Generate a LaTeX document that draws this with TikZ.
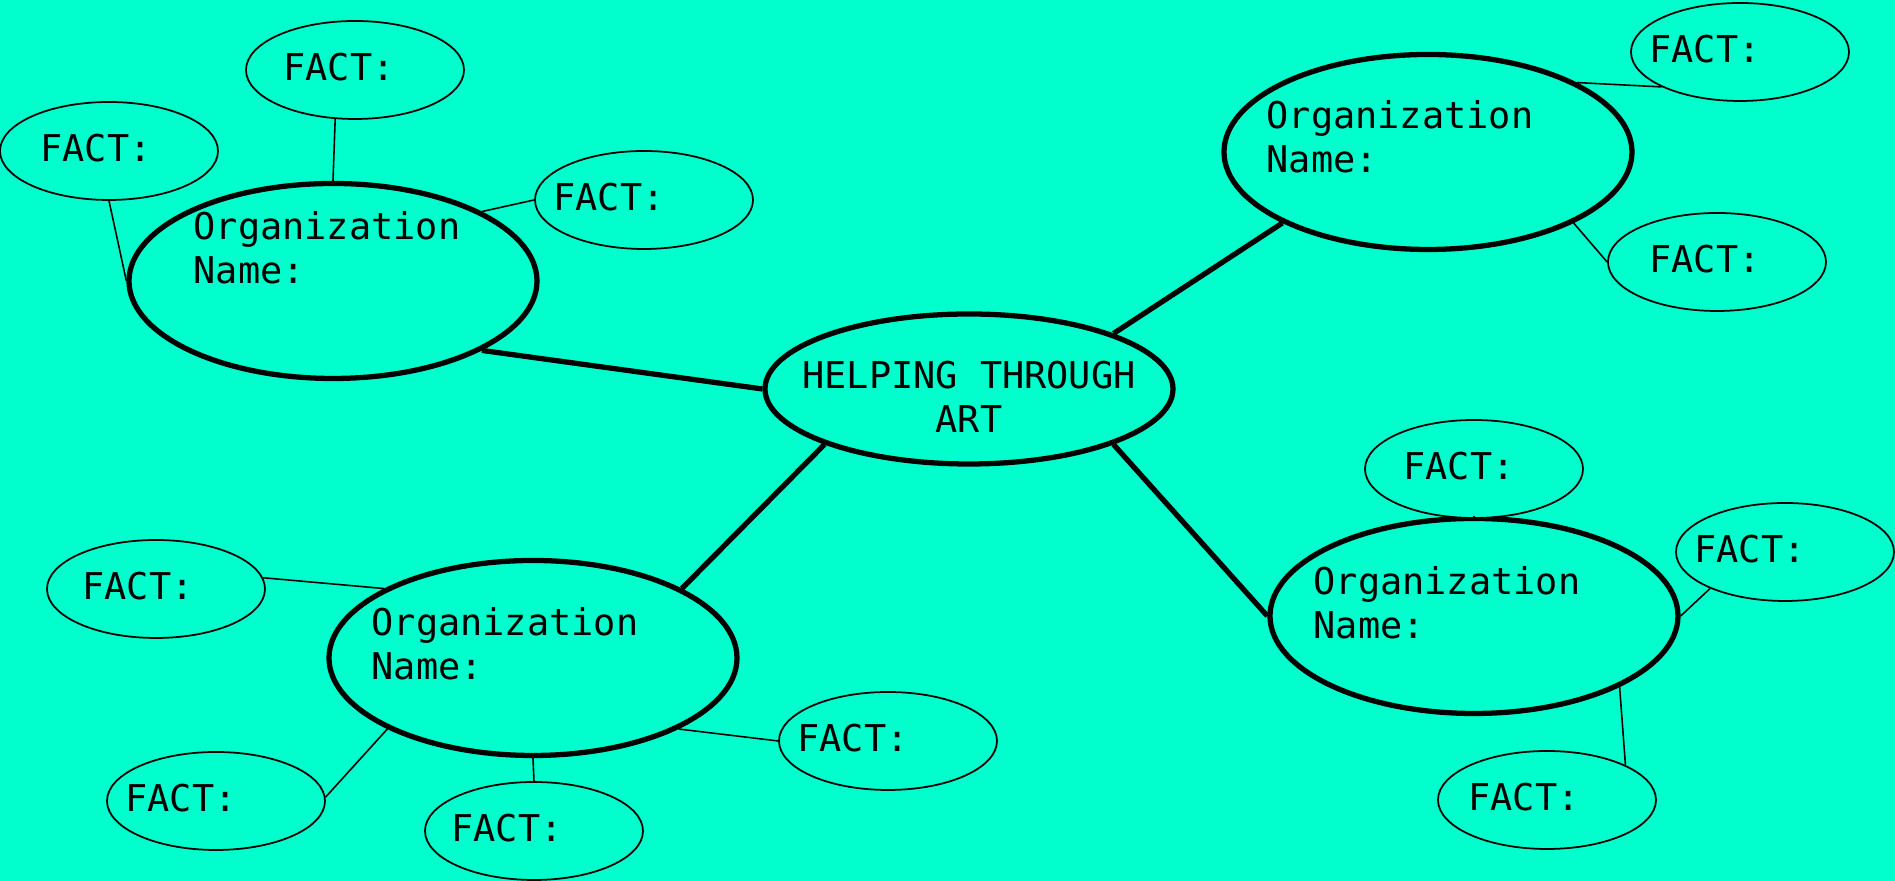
\documentclass[tikz,border=0pt]{standalone}
\usepackage{fontspec}
\setmainfont{DejaVu Sans Mono}
\usepackage{tikz}
\usepackage{xcolor}
\usetikzlibrary{shapes.geometric}
\definecolor{mint}{RGB}{0,255,204}

\begin{document}
\begin{tikzpicture}[
	every label/.style={font=\fontsize{10.5}{12.6}\selectfont, inner sep=0pt},
	hub/.style={ellipse, draw, line width=1.5pt, fill=mint, minimum width=40.8mm, minimum height=15mm},
	org/.style={ellipse, draw, line width=1.5pt, fill=mint, minimum width=40.8mm, minimum height=19.5mm},
	orgname/.style 2 args={label={[align=left, xshift=#1, yshift=#2]center:Organization\\Name:}},
	fact/.style={ellipse, draw, line width=0.5pt, fill=mint, minimum width=21.8mm, minimum height=9.8mm,
		label={[xshift=#1, yshift=0.3mm]center:FACT:}},
	bigline/.style={line width=1.5pt},
	thinline/.style={line width=0.45pt}]
		\useasboundingbox (0,0) rectangle (18.95,8.81);
		\fill [mint] (0,0) rectangle (18.95,8.81);
		\node [hub, label={[align=center, yshift=-0.8mm]center:HELPING THROUGH\\ART}] (hub) at (9.69,4.92) {};
		\node [org, orgname={-0.6mm}{3.3mm}] (orgA) at (3.33,6.00) {};
		\node [org, orgname={-2.8mm}{1.5mm}] (orgB) at (14.28,7.29) {};
		\node [org, orgname={-2.8mm}{1.4mm}] (orgC) at (5.33,2.23) {};
		\node [org, orgname={-2.7mm}{1.3mm}] (orgD) at (14.74,2.65) {};
		\node [fact=-1.6mm] (factA1) at (3.55,8.11) {};
		\node [fact=-1.3mm] (factA2) at (1.09,7.30) {};
		\node [fact=-3.5mm] (factA3) at (6.44,6.81) {};
		\node [fact=-3.5mm] (factB1) at (17.40,8.29) {};
		\node [fact=-1.2mm] (factB2) at (17.17,6.19) {};
		\node [fact=-1.5mm] (factD1) at (14.74,4.12) {};
		\node [fact=-3.5mm] (factD2) at (17.85,3.29) {};
		\node [fact=-2.3mm] (factD3) at (15.47,0.81) {};
		\node [fact=-1.8mm] (factC1) at (1.56,2.92) {};
		\node [fact=-3.5mm] (factC2) at (2.16,0.80) {};
		\node [fact=-2.7mm] (factC3) at (5.34,0.50) {};
		\node [fact=-3.5mm] (factC4) at (8.88,1.40) {};
		\draw [bigline] (orgA.-25) -- (hub.180);
		\draw [bigline] (orgB.-154) -- (hub.21);
		\draw [bigline] (orgC.25) -- (hub.-159);
		\draw [bigline] (orgD.180) -- (hub.-21);
		\draw [thinline] (factA1.-112) -- (orgA.90);
		\draw [thinline] (factA2.-90) -- (orgA.180);
		\draw [thinline] (factA3.180) -- (orgA.25);
		\draw [thinline] (factB1.-156) -- (orgB.25);
		\draw [thinline] (factB2.180) -- (orgB.-26);
		\draw [thinline] (factD1.-90) -- (orgD.90);
		\draw [thinline] (factD2.-154) -- (orgD.0);
		\draw [thinline] (factD3.24) -- (orgD.-26);
		\draw [thinline] (factC1.6) -- (orgC.155);
		\draw [thinline] (factC2.2) -- (orgC.-154);
		\draw [thinline] (factC3.90) -- (orgC.-90);
		\draw [thinline] (factC4.180) -- (orgC.-26);
\end{tikzpicture}
\end{document}
